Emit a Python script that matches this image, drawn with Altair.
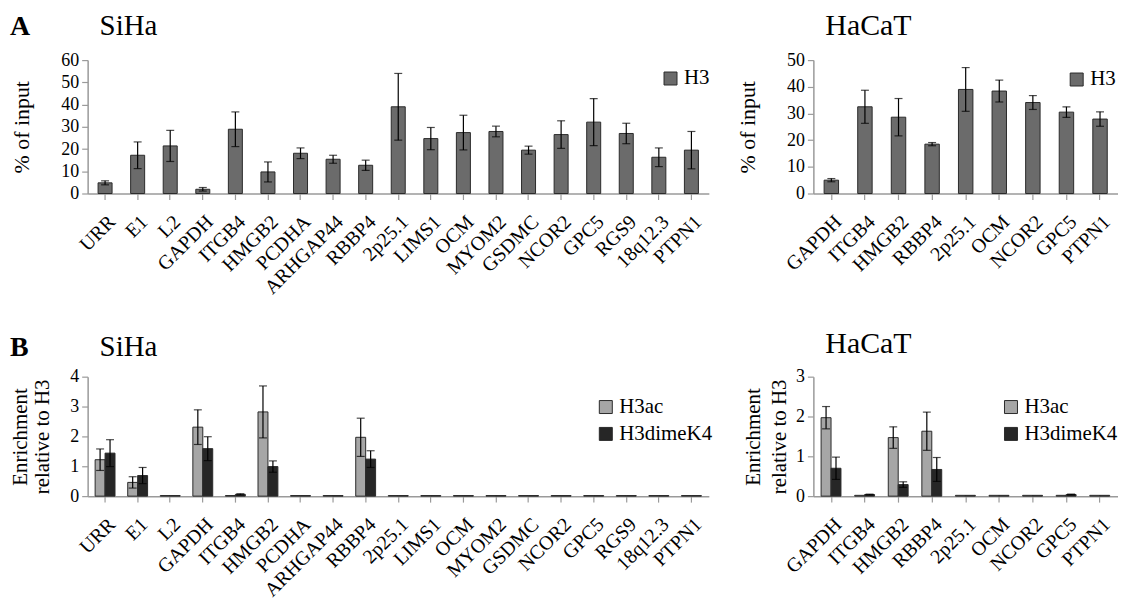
import altair as alt
import pandas as pd

FONT = "Liberation Serif, Times New Roman, serif"

# ---------------- data ----------------
siha_genes = ["URR", "E1", "L2", "GAPDH", "ITGB4", "HMGB2", "PCDHA", "ARHGAP44", "RBBP4",
              "2p25.1", "LIMS1", "OCM", "MYOM2", "GSDMC", "NCOR2", "GPC5", "RGS9", "18q12.3", "PTPN1"]
siha_h3 = [4.8, 17.2, 21.4, 1.9, 28.9, 9.7, 18.1, 15.4, 12.7,
           39.0, 24.7, 27.4, 27.9, 19.5, 26.5, 32.1, 27.0, 16.3, 19.5]
siha_h3_err = [0.9, 6.0, 7.0, 0.8, 7.8, 4.5, 2.4, 1.8, 2.3,
               15.0, 5.0, 7.8, 2.4, 1.8, 6.2, 10.6, 4.6, 4.2, 8.4]

hacat_genes = ["GAPDH", "ITGB4", "HMGB2", "RBBP4", "2p25.1", "OCM", "NCOR2", "GPC5", "PTPN1"]
hacat_h3 = [5.0, 32.5, 28.6, 18.5, 39.0, 38.4, 34.1, 30.5, 27.9]
hacat_h3_err = [0.6, 6.2, 7.0, 0.6, 8.2, 4.1, 2.6, 2.0, 2.7]

siha_ac = [1.22, 0.46, 0.02, 2.31, 0.02, 2.82, 0.02, 0.02, 1.97,
           0.02, 0.02, 0.02, 0.02, 0.02, 0.02, 0.02, 0.02, 0.02, 0.02]
siha_ac_err = [0.36, 0.19, 0, 0.58, 0, 0.87, 0, 0, 0.64,
               0, 0, 0, 0, 0, 0, 0, 0, 0, 0]
siha_k4 = [1.44, 0.69, 0.02, 1.59, 0.06, 0.99, 0.02, 0.02, 1.24,
           0.02, 0.02, 0.02, 0.02, 0.02, 0.02, 0.02, 0.02, 0.02, 0.02]
siha_k4_err = [0.45, 0.27, 0, 0.40, 0.02, 0.19, 0, 0, 0.28,
               0, 0, 0, 0, 0, 0, 0, 0, 0, 0]

hacat_ac = [1.97, 0.02, 1.47, 1.63, 0.02, 0.02, 0.02, 0.02, 0.02]
hacat_ac_err = [0.28, 0, 0.27, 0.48, 0, 0, 0, 0, 0]
hacat_k4 = [0.70, 0.04, 0.29, 0.67, 0.02, 0.02, 0.02, 0.04, 0.02]
hacat_k4_err = [0.28, 0.01, 0.07, 0.30, 0, 0, 0, 0.01, 0]

series_b = ["H3ac", "H3dimeK4"]
colors_b = ["#a6a6a6", "#262626"]

AXIS_GREY = "#9a9a9a"


def x_axis():
    return alt.Axis(title=None, labelAngle=-45, labelAlign="right", labelBaseline="top",
                    labelFont=FONT, labelFontSize=20, labelColor="black", labelPadding=12,
                    labelOverlap=False, labelBound=False, labelFlush=False,
                    domainColor=AXIS_GREY, domainWidth=1.5, tickColor=AXIS_GREY,
                    tickSize=6, tickWidth=1.2)


def y_axis(title, values, height, title_x, title_size, line_h=None):
    kw = dict(title=title, values=values, grid=False,
              labelFont=FONT, labelFontSize=18, labelColor="black", labelPadding=3,
              domainColor=AXIS_GREY, domainWidth=1.5, tickColor=AXIS_GREY,
              tickSize=6, tickWidth=1.2,
              titleFont=FONT, titleFontSize=title_size, titleFontWeight="normal",
              titleColor="black", titleX=title_x, titleY=height / 2, titleAngle=-90,
              titleAlign="center", titleBaseline="middle")
    if line_h is not None:
        kw["titleLineHeight"] = line_h
    return alt.Axis(**kw)


def label_layer(text, x, y, size=29, bold=False):
    return alt.Chart(pd.DataFrame({"t": [text]})).mark_text(
        font=FONT, fontSize=size, fontWeight="bold" if bold else "normal",
        align="left", baseline="alphabetic", color="black"
    ).encode(text="t:N", x=alt.value(x), y=alt.value(y))


def legend(lx, ly):
    return alt.Legend(title=None, orient="none", legendX=lx, legendY=ly,
                      symbolType="square", symbolSize=170, symbolStrokeColor="#2a2a2a",
                      symbolStrokeWidth=1, symbolOpacity=1,
                      labelFont=FONT, labelFontSize=21, labelColor="black",
                      labelOffset=3, rowPadding=5, padding=0)


def single_panel(genes, vals, errs, width, height, ymax, ystep, cell, cell_size, letter,
                 lx, ly, title_x):
    df = pd.DataFrame({"gene": genes, "value": vals, "err": errs})
    df["series"] = "H3"
    df["lo"] = df["value"] - df["err"]
    df["hi"] = df["value"] + df["err"]
    xs = alt.Scale(paddingInner=0.57, paddingOuter=0.32)
    ys = alt.Scale(domain=[0, ymax], nice=False)
    yax = y_axis("% of input", list(range(0, ymax + 1, ystep)), height, title_x, 22)
    bars = alt.Chart(df).mark_bar(stroke="#2a2a2a", strokeWidth=1).encode(
        x=alt.X("gene:N", sort=genes, scale=xs, axis=x_axis()),
        y=alt.Y("value:Q", scale=ys, axis=yax),
        color=alt.Color("series:N", scale=alt.Scale(domain=["H3"], range=["#6b6b6b"]),
                        legend=legend(lx, ly)),
    )
    dfe = df[df["err"] > 0]
    rule = alt.Chart(dfe).mark_rule(color="black", strokeWidth=1.2).encode(
        x=alt.X("gene:N", sort=genes, scale=xs, axis=x_axis()),
        y=alt.Y("lo:Q", scale=ys, axis=yax), y2="hi:Q")
    cap_hi = alt.Chart(dfe).mark_tick(color="black", size=8, thickness=1.2, orient="horizontal").encode(
        x=alt.X("gene:N", sort=genes, scale=xs, axis=x_axis()),
        y=alt.Y("hi:Q", scale=ys, axis=yax))
    cap_lo = alt.Chart(dfe).mark_tick(color="black", size=8, thickness=1.2, orient="horizontal").encode(
        x=alt.X("gene:N", sort=genes, scale=xs, axis=x_axis()),
        y=alt.Y("lo:Q", scale=ys, axis=yax))
    layers = [bars, rule, cap_hi, cap_lo]
    if letter:
        layers.append(label_layer(letter, -78, -25, size=28, bold=True))
    layers.append(label_layer(cell, 12, -25, size=cell_size))
    return alt.layer(*layers).properties(width=width, height=height)


def grouped_panel(genes, ac, ac_err, k4, k4_err, width, height, ymax, cell, cell_size, letter,
                  lx, ly, title_x, title_y, line_h):
    rows = []
    for g, v, e in zip(genes, ac, ac_err):
        rows.append({"gene": g, "series": "H3ac", "value": v, "err": e})
    for g, v, e in zip(genes, k4, k4_err):
        rows.append({"gene": g, "series": "H3dimeK4", "value": v, "err": e})
    df = pd.DataFrame(rows)
    df["lo"] = df["value"] - df["err"]
    df["hi"] = df["value"] + df["err"]
    xs = alt.Scale(paddingInner=0.39, paddingOuter=0.23)
    ys = alt.Scale(domain=[0, ymax], nice=False)
    yax = y_axis(["Enrichment", "relative to H3"], list(range(0, ymax + 1)), height,
                 title_x, 21, line_h)
    xo = alt.XOffset("series:N", sort=series_b, scale=alt.Scale(paddingInner=0, paddingOuter=0))
    bars = alt.Chart(df).mark_bar(stroke="#2a2a2a", strokeWidth=1).encode(
        x=alt.X("gene:N", sort=genes, scale=xs, axis=x_axis()),
        xOffset=xo,
        y=alt.Y("value:Q", scale=ys, axis=yax),
        color=alt.Color("series:N", sort=series_b,
                        scale=alt.Scale(domain=series_b, range=colors_b),
                        legend=legend(lx, ly)),
    )
    dfe = df[df["err"] > 0]
    rule = alt.Chart(dfe).mark_rule(color="black", strokeWidth=1.2).encode(
        x=alt.X("gene:N", sort=genes, scale=xs, axis=x_axis()), xOffset=xo,
        y=alt.Y("lo:Q", scale=ys, axis=yax), y2="hi:Q")
    cap_hi = alt.Chart(dfe).mark_tick(color="black", size=8, thickness=1.2, orient="horizontal").encode(
        x=alt.X("gene:N", sort=genes, scale=xs, axis=x_axis()), xOffset=xo,
        y=alt.Y("hi:Q", scale=ys, axis=yax))
    cap_lo = alt.Chart(dfe).mark_tick(color="black", size=8, thickness=1.2, orient="horizontal").encode(
        x=alt.X("gene:N", sort=genes, scale=xs, axis=x_axis()), xOffset=xo,
        y=alt.Y("lo:Q", scale=ys, axis=yax))
    layers = [bars, rule, cap_hi, cap_lo]
    if letter:
        layers.append(label_layer(letter, -78, title_y, size=28, bold=True))
    layers.append(label_layer(cell, 12, title_y, size=cell_size))
    return alt.layer(*layers).properties(width=width, height=height)


a_siha = single_panel(siha_genes, siha_h3, siha_h3_err, 624, 134, 60, 10, "SiHa", 29, "A",
                      575, 8, -66)
a_hacat = single_panel(hacat_genes, hacat_h3, hacat_h3_err, 306, 134, 50, 10, "HaCaT", 30, None,
                       254, 9, -66)
b_siha = grouped_panel(siha_genes, siha_ac, siha_ac_err, siha_k4, siha_k4_err, 624, 120, 4,
                       "SiHa", 29, "B", 510, 20, -67, -21, 22)
b_hacat = grouped_panel(hacat_genes, hacat_ac, hacat_ac_err, hacat_k4, hacat_k4_err, 306, 120, 3,
                        "HaCaT", 30, None, 188, 20, -60, -24, 26)

chart = alt.concat(
    a_siha, a_hacat, b_siha, b_hacat,
    columns=2, bounds="flush", align="each",
    spacing={"row": 184, "column": 105},
).resolve_scale(
    color="independent", x="independent", y="independent"
).resolve_legend(color="independent").properties(
    padding={"left": 2, "top": 2, "right": 0, "bottom": 0},
    background="white",
).configure(font=FONT).configure_axis(
    labelFont=FONT, titleFont=FONT
).configure_legend(labelFont=FONT).configure_view(stroke=None)

chart.save("out.html", embed_options={"renderer": "svg", "actions": False})
